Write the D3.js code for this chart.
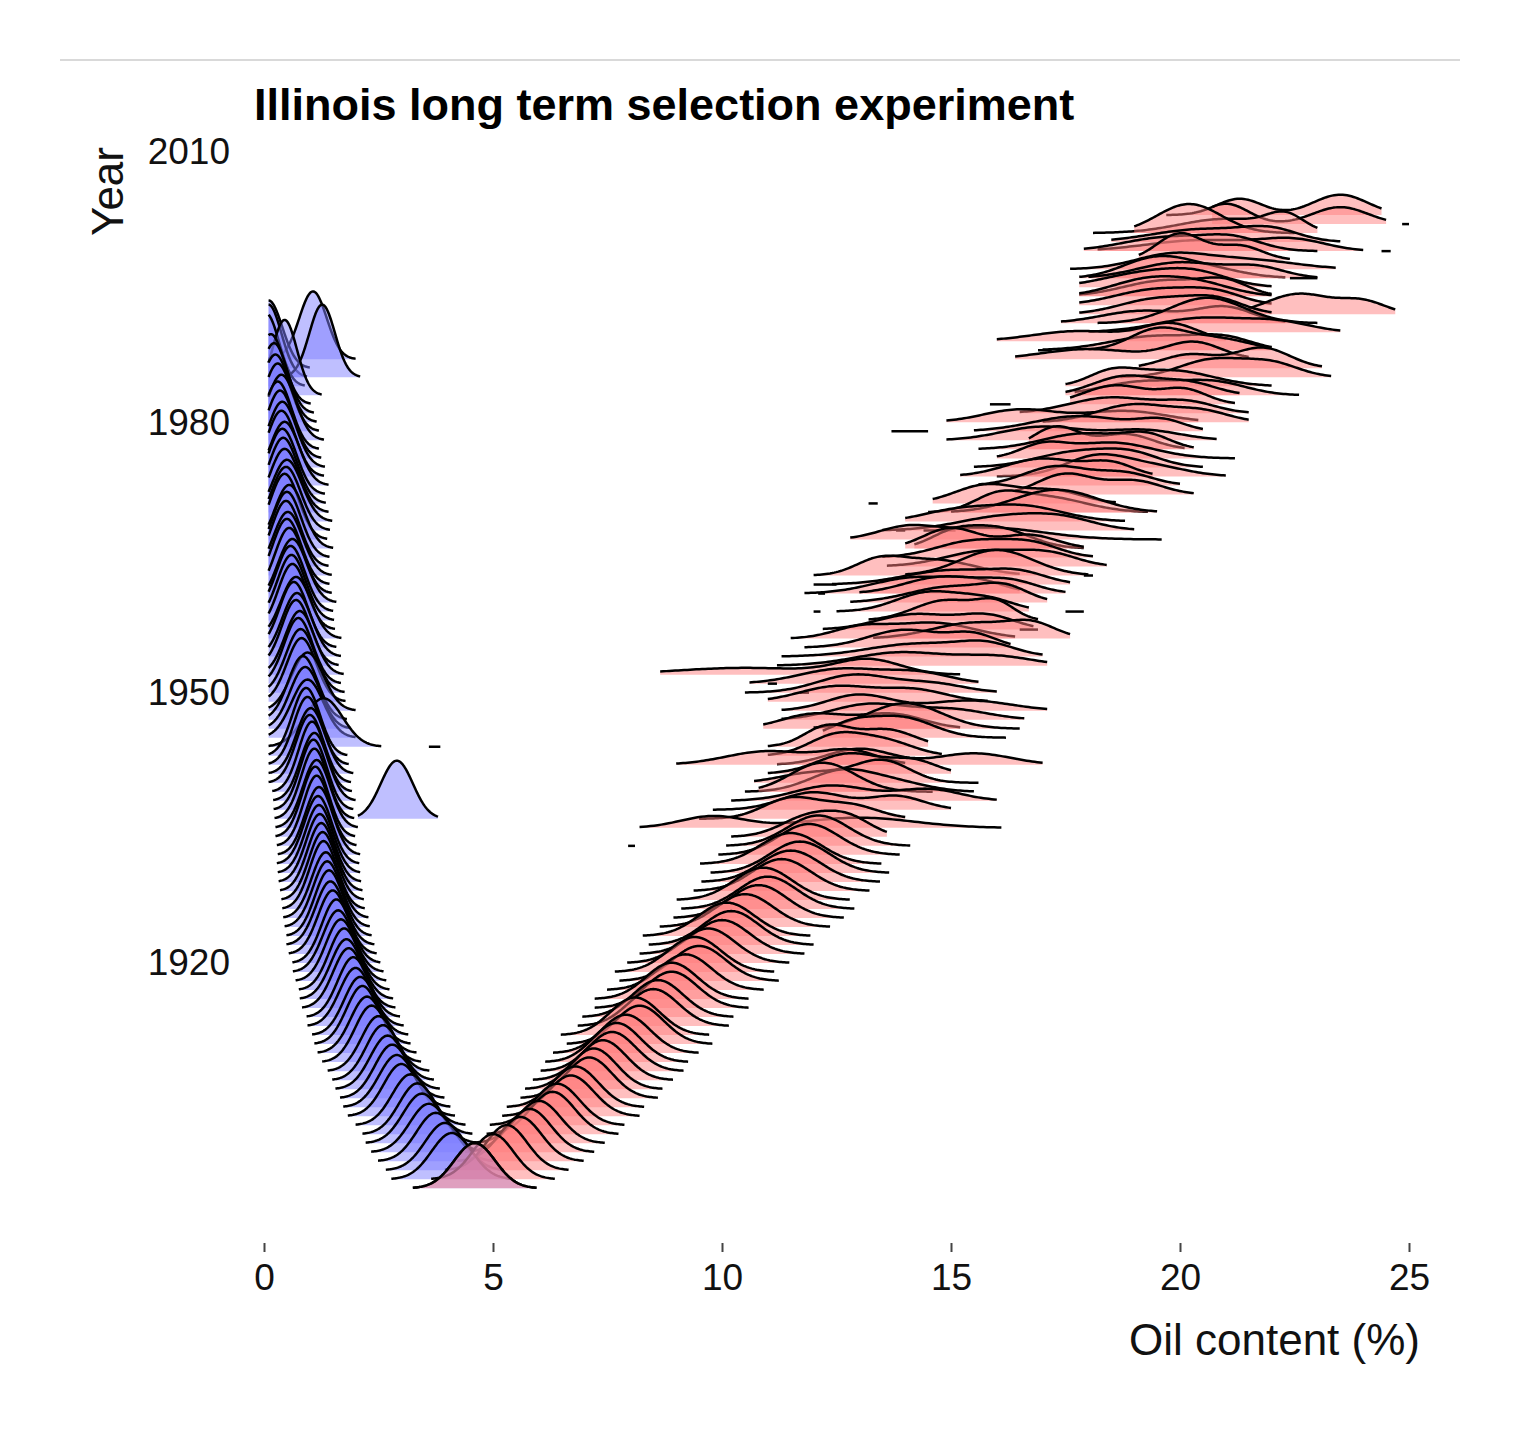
<!DOCTYPE html>
<html>
<head>
<meta charset="utf-8">
<style>
  body { margin: 0; background: #fff; }
  svg { display: block; }
  text { font-family: "Liberation Sans", Arial, sans-serif; }
</style>
</head>
<body>
<svg id="chart" width="1520" height="1444"></svg>

<script src="https://d3js.org/d3.v7.min.js"></script>
<script>
  // Illinois long term selection experiment: ridgelines of oil content by year
  // Each ridge is a smoothed density (mean / sd in % oil)

  // low oil line: [year, mean, sd]
  const lowLine = [
    [1895, 4.6, .45], [1896, 4.1, .44], [1897, 3.95, .43], [1898, 3.75, .42], [1899, 3.6, .42],
    [1900, 3.45, .41], [1901, 3.35, .40], [1902, 3.2, .40], [1903, 3.0, .39], [1904, 2.9, .39],
    [1905, 2.8, .38], [1906, 2.7, .38], [1907, 2.6, .37], [1908, 2.5, .37], [1909, 2.35, .36],
    [1910, 2.25, .36], [1911, 2.15, .35], [1912, 2.1, .35], [1913, 2.0, .35], [1914, 1.95, .34],
    [1915, 1.85, .34], [1916, 1.8, .34], [1917, 1.75, .33], [1918, 1.68, .33], [1919, 1.62, .33],
    [1920, 1.58, .32], [1921, 1.5, .32], [1922, 1.45, .32], [1923, 1.42, .31], [1924, 1.38, .31],
    [1925, 1.35, .31], [1926, 1.3, .30], [1927, 1.28, .30], [1928, 1.25, .30], [1929, 1.22, .30],
    [1930, 1.2, .30], [1931, 1.18, .30], [1932, 1.2, .30], [1933, 1.15, .29], [1934, 1.12, .29],
    [1935, 1.15, .30], [1936, 1.1, .29], [1937, 1.08, .29], [1938, 1.1, .30], [1939, 1.05, .29],
    [1940, 1.0, .30], [1941, 1.02, .31], [1942, 0.95, .30], [1943, 0.92, .30], [1944, 1.3, .42],
    [1945, 0.95, .35], [1946, 0.9, .33], [1947, 0.85, .32], [1948, 0.95, .35], [1949, 0.82, .32],
    [1950, 0.8, .32], [1951, 0.75, .31], [1952, 0.78, .32], [1953, 0.7, .31], [1954, 0.72, .32],
    [1955, 0.65, .31], [1956, 0.7, .33], [1957, 0.62, .31], [1958, 0.6, .31], [1959, 0.58, .31],
    [1960, 0.62, .32], [1961, 0.55, .31], [1962, 0.5, .31], [1963, 0.52, .32], [1964, 0.48, .31],
    [1965, 0.5, .31], [1966, 0.55, .32], [1967, 0.45, .31], [1968, 0.48, .32], [1969, 0.5, .33],
    [1970, 0.45, .32], [1971, 0.42, .31], [1972, 0.4, .31], [1973, 0.45, .32], [1974, 0.38, .31],
    [1975, 0.4, .31], [1976, 0.35, .30], [1977, 0.3, .30], [1978, 0.38, .31], [1979, 0.3, .30],
    [1980, 0.25, .30], [1981, 0.22, .29], [1982, 0.15, .29], [1983, 0.45, .27], [1984, 0.05, .28],
    [1985, 0.1, .28], [1986, 0.1, .30]
  ]

  // other low lines (reverse / switchback): [year, min, max, mean, sd]
  const lowExtra = [
    [1936, 2.05, 3.8, 2.9, .35],
    [1985, 0.35, 2.1, 1.27, .28],
    [1987, 0.3, 2.0, 1.07, .30]
  ]

  // high oil line, early generations: [year, mean, sd]
  const highEarly = [
    [1895, 4.6, .45], [1896, 5.0, .45], [1897, 5.3, .45], [1898, 5.6, .46], [1899, 5.8, .47],
    [1900, 6.0, .48], [1901, 6.3, .48], [1902, 6.4, .49], [1903, 6.7, .50], [1904, 6.8, .50],
    [1905, 7.1, .50], [1906, 7.2, .50], [1907, 7.4, .51], [1908, 7.6, .52], [1909, 7.7, .52],
    [1910, 7.9, .53], [1911, 8.2, .53], [1912, 8.1, .54], [1913, 8.5, .55], [1914, 8.6, .55],
    [1915, 8.9, .56], [1916, 8.9, .56], [1917, 9.2, .57], [1918, 9.5, .58], [1919, 9.4, .58],
    [1920, 9.7, .59], [1921, 10.0, .60], [1922, 10.2, .60], [1923, 10.1, .61], [1924, 10.5, .62],
    [1925, 10.8, .62], [1926, 11.0, .63], [1927, 10.9, .63], [1928, 11.3, .64], [1929, 11.5, .65],
    [1930, 11.7, .65], [1931, 11.5, .66], [1932, 11.9, .66], [1933, 12.1, .67]
  ]

  // high lines, later years (lumpy): [year, min, max, mean1, sd1, mean2, sd2, weight2]
  const highLate = [
    [1934, 10.2, 13.6, 11.9, .6, 12.8, .5, .4],
    [1935, 8.2, 16.1, 9.8, .7, 13.0, 1.2, .6],
    [1936, 9.5, 14.0, 11.5, .6, 12.8, .6, .4],
    [1937, 9.8, 15.0, 12.0, .7, 13.8, .6, .4],
    [1938, 10.2, 16.0, 12.4, .8, 14.5, .7, .4],
    [1939, 10.5, 15.5, 12.6, .7, 13.8, .7, .3],
    [1939, 10.8, 14.6, 12.2, .7, 0, 0, 0],
    [1940, 10.7, 15.6, 13.5, .6, 12.0, .7, .35],
    [1941, 11.0, 15.0, 12.8, .7, 14.2, .5, .3],
    [1942, 11.2, 17.0, 13.0, .7, 15.5, .8, .45],
    [1942, 9.0, 14.0, 11.0, .9, 12.8, .6, .4],
    [1943, 11.0, 14.8, 12.5, .6, 13.6, .6, .4],
    [1944, 11.0, 14.5, 12.3, .5, 13.6, .6, .5],
    [1945, 12.2, 16.2, 13.9, .7, 12.8, .5, .3],
    [1946, 10.9, 15.2, 12.0, .7, 13.7, .7, .5],
    [1946, 12.0, 16.5, 14.0, .8, 0, 0, 0],
    [1947, 11.3, 16.6, 13.2, .8, 15.0, .8, .4],
    [1948, 11.3, 17.1, 13.0, .7, 15.4, .9, .45],
    [1949, 11.0, 15.8, 12.5, .8, 14.2, .7, .4],
    [1950, 10.5, 16.0, 12.9, .8, 14.6, .7, .3],
    [1951, 10.6, 15.6, 12.6, .9, 14.3, .7, .35],
    [1952, 8.65, 15.2, 13.2, .7, 10.5, 1.5, .5],
    [1953, 11.2, 17.1, 13.9, 1.0, 16.0, .8, .35],
    [1954, 11.3, 17.0, 14.3, 1.1, 15.8, .6, .3],
    [1955, 11.8, 16.3, 14.0, .8, 15.5, .5, .3],
    [1956, 11.5, 16.4, 14.6, .9, 13.0, .6, .3],
    [1956, 13.3, 17.6, 15.5, .9, 16.8, .5, .3],
    [1957, 12.2, 16.8, 14.2, .8, 15.8, .6, .4],
    [1958, 13.2, 16.9, 14.9, .7, 16.0, .4, .3],
    [1959, 12.5, 16.7, 14.5, .7, 15.8, .6, .35],
    [1960, 12.8, 17.1, 15.0, .9, 16.2, .5, .3],
    [1961, 11.8, 16.5, 14.2, .9, 15.6, .6, .3],
    [1961, 13.0, 17.5, 14.8, .8, 16.3, .6, .35],
    [1962, 12.4, 17.6, 15.0, 1.0, 16.5, .6, .3],
    [1963, 12.0, 16.5, 14.6, .9, 13.4, .5, .3],
    [1963, 14.0, 18.0, 16.0, .8, 0, 0, 0],
    [1964, 13.6, 18.4, 15.8, .9, 17.2, .6, .3],
    [1965, 13.5, 18.1, 15.5, .8, 16.8, .6, .35],
    [1966, 14.2, 17.9, 16.0, .7, 15.0, .5, .3],
    [1966, 14.0, 17.9, 15.0, .6, 16.7, .6, .4],
    [1967, 12.8, 19.6, 15.8, 1.2, 14.0, .6, .3],
    [1968, 13.5, 19.0, 16.2, 1.0, 17.5, .7, .3],
    [1969, 14.0, 18.8, 16.5, .9, 15.0, .7, .3],
    [1970, 14.5, 19.3, 17.0, .9, 16.0, .5, .3],
    [1970, 15.0, 19.5, 17.3, .9, 0, 0, 0],
    [1971, 14.6, 18.6, 15.8, .7, 17.3, .6, .35],
    [1972, 16.4, 20.3, 17.5, .6, 19.0, .6, .4],
    [1973, 15.6, 20.0, 17.3, .7, 18.8, .6, .35],
    [1974, 16.0, 21.0, 18.2, .7, 19.5, .7, .3],
    [1974, 15.2, 19.4, 17.0, .8, 18.5, .5, .3],
    [1975, 15.5, 20.5, 17.8, .9, 19.0, .6, .3],
    [1976, 16.0, 21.2, 18.5, .9, 17.0, .5, .3],
    [1977, 16.7, 20.1, 17.3, .5, 18.8, .6, .45],
    [1977, 15.6, 20.3, 17.9, .9, 19.3, .5, .3],
    [1978, 14.9, 20.8, 17.0, .9, 19.2, .8, .4],
    [1979, 15.5, 20.5, 17.8, 1.0, 19.6, .5, .25],
    [1980, 14.9, 20.4, 16.5, .8, 18.8, .9, .5],
    [1980, 17.0, 21.5, 19.0, .8, 20.5, .6, .3],
    [1981, 16.5, 21.5, 18.5, .9, 20.2, .6, .3],
    [1982, 17.6, 21.2, 18.6, .7, 20.1, .5, .35],
    [1983, 17.7, 22.6, 19.2, .9, 20.8, .7, .4],
    [1983, 17.5, 21.3, 18.8, .7, 20.2, .6, .35],
    [1984, 17.5, 22.0, 19.8, .9, 18.5, .5, .3],
    [1985, 18.7, 23.3, 20.7, .7, 22.0, .6, .4],
    [1986, 19.1, 23.1, 21.8, .6, 20.2, .6, .4],
    [1987, 16.4, 21.5, 20.3, .6, 18.0, 1.0, .5],
    [1988, 17.0, 22.0, 19.5, 1.0, 21.0, .6, .3],
    [1988, 18.0, 22.0, 19.5, .6, 20.8, .7, .4],
    [1989, 16.0, 21.0, 19.8, .6, 17.8, 1.0, .5],
    [1990, 18.0, 23.5, 20.5, 1.0, 22.2, .7, .3],
    [1991, 17.4, 22.3, 19.2, .9, 21.0, .6, .45],
    [1991, 18.2, 23.0, 20.6, .8, 0, 0, 0],
    [1992, 21.5, 24.7, 22.6, .7, 24.0, .5, .3],
    [1992, 17.8, 22.0, 19.5, .8, 20.8, .6, .4],
    [1993, 17.8, 22.0, 19.5, .9, 20.8, .6, .3],
    [1994, 17.8, 22.0, 19.7, .9, 21.0, .5, .3],
    [1994, 17.8, 22.0, 19.3, .8, 20.5, .7, .35],
    [1995, 17.8, 22.0, 19.2, .9, 20.4, .7, .4],
    [1996, 17.8, 22.3, 19.4, .7, 20.5, .8, .4],
    [1996, 18.0, 23.0, 20.0, .9, 21.7, .6, .3],
    [1997, 17.6, 23.4, 19.8, .8, 21.5, 1.0, .45],
    [1998, 19.1, 22.4, 20.0, .5, 21.3, .5, .35],
    [1999, 18.2, 24.0, 20.5, 1.2, 22.5, .7, .35],
    [1999, 17.9, 23.0, 19.8, 1.0, 21.2, .6, .3],
    [2000, 18.5, 23.5, 20.5, 1.1, 22.0, .6, .3],
    [2001, 18.1, 23.0, 21.0, 1.0, 22.3, .4, .3],
    [2001, 19.0, 22.5, 20.2, .7, 0, 0, 0],
    [2002, 20.7, 24.5, 21.0, .5, 23.5, .6, .5],
    [2003, 19.7, 24.4, 21.3, .5, 23.5, .6, .6]
  ]

  // single-value groups that only leave a flat segment: [year, min, max]
  const stubs = [
    [1944, 3.6, 3.85], [1933, 7.95, 8.1], [1951, 11.0, 11.2], [1950, 11.7, 11.9],
    [1962, 12.0, 12.5], [1961, 12.1, 12.25], [1959, 12.0, 12.15], [1959, 17.5, 17.9],
    [1963, 17.9, 18.1], [1957, 16.5, 16.9], [1971, 13.2, 13.4], [1968, 13.8, 14.0],
    [1968, 14.4, 15.1], [1979, 13.7, 14.5], [1982, 15.85, 16.3], [1988, 16.9, 17.2],
    [2002, 24.85, 25.0], [1999, 24.4, 24.6], [1996, 22.4, 23.0]
  ]

  const xTicks = [0, 5, 10, 15, 20, 25]
  const yTicks = [1920, 1950, 1980, 2010]

  const oilMin = 0.1       // lowest oil value in the data
  const ridgeScale = 5.66  // ridge height in years per unit of density
  const fills = { low: '#8080ff', high: '#ff8080' }

  const svg = d3.select('#chart')

  const x = d3.scaleLinear().domain([0, 25]).range([264, 1409])
  const y = d3.scaleLinear().domain([1920, 2010]).range([963, 152])

  // build one list of ridges
  const ridges = []
  lowLine.forEach(([yr, m, s]) => ridges.push({
    year: yr, group: 'low', lo: Math.max(oilMin, m - 3 * s), hi: m + 3 * s, modes: [[m, s, 1]]
  }))
  lowExtra.forEach(([yr, lo, hi, m, s]) => ridges.push({
    year: yr, group: 'low', lo, hi, modes: [[m, s, 1]]
  }))
  highEarly.forEach(([yr, m, s]) => ridges.push({
    year: yr, group: 'high', lo: m - 3 * s, hi: m + 3 * s, modes: [[m, s, 1]]
  }))
  highLate.forEach(([yr, lo, hi, m1, s1, m2, s2, w2]) => ridges.push({
    year: yr, group: 'high', lo, hi,
    modes: w2 > 0 ? [[m1, s1, 1 - w2], [m2, s2, w2]] : [[m1, s1, 1]]
  }))
  stubs.forEach(([yr, lo, hi]) => ridges.push({
    year: yr, group: 'stub', lo, hi, modes: []
  }))

  // higher years first so lower ridges sit in front
  const order = { low: 0, high: 1, stub: 2 }
  ridges.sort((a, b) => b.year - a.year || order[a.group] - order[b.group])

  const gauss = (v, m, s) => Math.exp(-0.5 * ((v - m) / s) ** 2) / (s * Math.sqrt(2 * Math.PI))

  function ridgePoints(r) {
    const n = 100
    return d3.range(n + 1).map(i => {
      const v = r.lo + (r.hi - r.lo) * i / n
      const d = d3.sum(r.modes, ([m, s, w]) => w * gauss(v, m, s))
      return { v, d }
    })
  }

  const plot = svg.append('g')

  ridges.forEach(r => {
    const pts = ridgePoints(r)
    const area = d3.area()
      .x(p => x(p.v))
      .y0(() => y(r.year))
      .y1(p => y(r.year + ridgeScale * p.d))
    const line = d3.line()
      .x(p => x(p.v))
      .y(p => y(r.year + ridgeScale * p.d))

    const g = plot.append('g')
    if (r.group !== 'stub') {
      g.append('path')
        .attr('d', area(pts))
        .attr('fill', fills[r.group])
        .attr('fill-opacity', 0.5)
    }
    g.append('path')
      .attr('d', line(pts))
      .attr('fill', 'none')
      .attr('stroke', '#000')
      .attr('stroke-width', 2.5)
      .attr('stroke-linejoin', 'round')
  })

  // top rule
  svg.append('line')
    .attr('x1', 60).attr('x2', 1460)
    .attr('y1', 60).attr('y2', 60)
    .attr('stroke', '#cccccc')
    .attr('stroke-width', 1.5)

  // x axis: ticks and labels, no axis line
  svg.append('g')
    .attr('transform', 'translate(0,1243)')
    .call(d3.axisBottom(x).tickValues(xTicks).tickSize(9).tickPadding(12).tickSizeOuter(0))
    .call(g => g.select('.domain').remove())
    .call(g => g.attr('font-family', '"Liberation Sans", Arial, sans-serif').attr('font-size', 37))
    .call(g => g.selectAll('.tick line').attr('stroke', '#444').attr('stroke-width', 2))
    .call(g => g.selectAll('.tick text').attr('fill', '#111'))

  // y axis: labels only
  svg.append('g')
    .attr('transform', 'translate(236,0)')
    .call(d3.axisLeft(y).tickValues(yTicks).tickFormat(d3.format('d')).tickSize(0).tickPadding(6))
    .call(g => g.select('.domain').remove())
    .call(g => g.attr('font-family', '"Liberation Sans", Arial, sans-serif').attr('font-size', 37))
    .call(g => g.selectAll('.tick text').attr('fill', '#111'))

  // titles
  svg.append('text')
    .attr('x', 254).attr('y', 120)
    .attr('font-size', 45)
    .attr('font-weight', 'bold')
    .attr('fill', '#000')
    .text('Illinois long term selection experiment')

  svg.append('text')
    .attr('transform', 'translate(123,147) rotate(-90)')
    .attr('text-anchor', 'end')
    .attr('font-size', 44)
    .attr('fill', '#111')
    .text('Year')

  svg.append('text')
    .attr('x', 1420).attr('y', 1355)
    .attr('text-anchor', 'end')
    .attr('font-size', 44)
    .attr('fill', '#111')
    .text('Oil content (%)')
</script>
</body>
</html>
